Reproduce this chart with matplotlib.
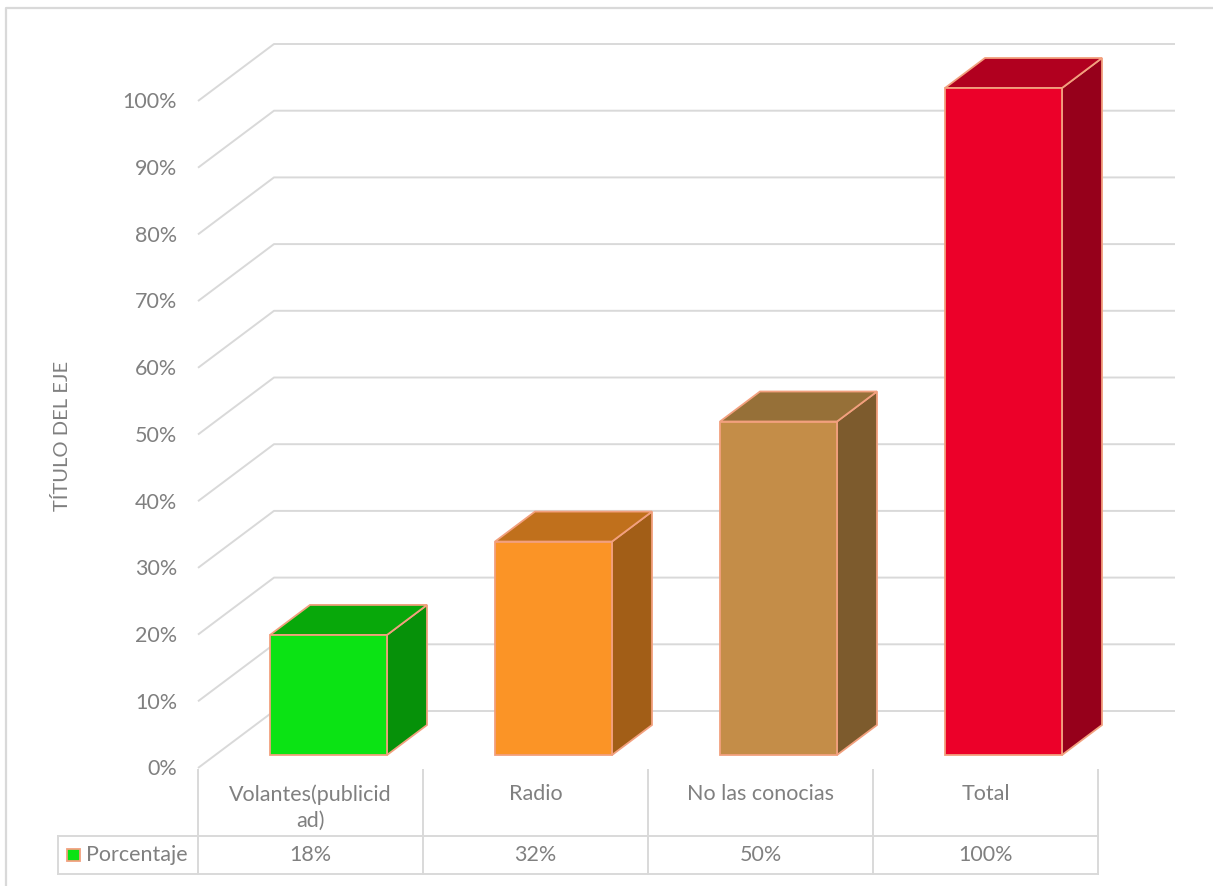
import matplotlib
matplotlib.use('Agg')
import matplotlib.pyplot as plt
from matplotlib.patches import Polygon, Rectangle

plt.rcParams['font.family'] = ['Lato', 'DejaVu Sans']

# datos del grafico
categorias = ['Volantes(publicid\nad)', 'Radio', 'No las conocias', 'Total']
porcentaje = [0.18, 0.32, 0.50, 1.00]
etiquetas = ['18%', '32%', '50%', '100%']
serie = 'Porcentaje'
ticks = [i / 10 for i in range(11)]

c_frente = ['#0BE314', '#FB9426', '#C48D48', '#EC0029']
c_arriba = ['#08A80A', '#C0701C', '#967038', '#B1001F']
c_lado = ['#069109', '#A25E17', '#7D5B2D', '#96001B']
c_borde = '#F2A07E'
c_grid = '#D9D9D9'
c_texto = '#808080'
fs = 15.5

W, H = 1213, 886


# pixeles -> coordenadas (categoria, valor)
def px(x):
    return (x - 198) / 225.0 - 0.5


def py(y):
    return (755 - y) / 667.0


fig = plt.figure(figsize=(W / 100, H / 100), dpi=100)
ax = fig.add_axes([0, 0, 1, 1])
ax.set_xlim(px(0), px(W))
ax.set_ylim(py(H), py(0))
ax.axis('off')

# profundidad de las paredes y de las barras
wdx, wdy = px(274) - px(198), py(711) - py(768)
fy = py(768)
bdx, bdy = 40 / 225.0, 30 / 667.0

# lineas de la cuadricula (pared izquierda + fondo)
for t in ticks:
    ax.plot([-0.5, -0.5 + wdx, px(1175)], [t + fy, t + fy + wdy, t + fy + wdy],
            color=c_grid, lw=1.4, zorder=1, solid_capstyle='butt')
    ax.text(px(177), t + fy - 0.002, '{:.0f}%'.format(t * 100), ha='right', va='center',
            fontsize=fs, color=c_texto)

# barras 3D
for i, v in enumerate(porcentaje):
    x0, x1 = i - 0.18, i + 0.34
    ax.add_patch(Polygon([(x1, 0), (x1 + bdx, bdy), (x1 + bdx, v + bdy), (x1, v)],
                         closed=True, fc=c_lado[i], ec=c_borde, lw=1.3, zorder=3))
    ax.add_patch(Polygon([(x0, v), (x1, v), (x1 + bdx, v + bdy), (x0 + bdx, v + bdy)],
                         closed=True, fc=c_arriba[i], ec=c_borde, lw=1.3, zorder=3))
    ax.add_patch(Rectangle((x0, 0), x1 - x0, v, fc=c_frente[i], ec=c_borde, lw=1.3, zorder=4))

# tabla de datos
for i in range(len(categorias) + 1):
    ax.plot([i - 0.5, i - 0.5], [py(770), py(874)], color=c_grid, lw=1.4, zorder=1)
for y in (836, 874):
    ax.plot([px(58), 3.5], [py(y), py(y)], color=c_grid, lw=1.4, zorder=1)
ax.plot([px(58), px(58)], [py(836), py(874)], color=c_grid, lw=1.4, zorder=1)

for i, (c, e) in enumerate(zip(categorias, etiquetas)):
    ax.text(i, py(784), c, ha='center', va='top', fontsize=fs, color=c_texto, linespacing=1.4)
    ax.text(i, py(855), e, ha='center', va='center', fontsize=fs, color=c_texto)

ax.add_patch(Rectangle((px(67), py(861)), px(80) - px(67), py(849) - py(861),
                       fc=c_frente[0], ec=c_borde, lw=1.3))
ax.text(px(86), py(855), serie, ha='left', va='center', fontsize=fs, color=c_texto)

# titulo del eje
ax.text(px(62), py(436), 'TÍTULO DEL EJE', rotation=90, ha='center', va='center',
        fontsize=14.5, color=c_texto)

# borde del area del grafico
ax.plot([px(6), px(6), px(W + 5)], [py(H + 5), py(8), py(8)], color=c_grid, lw=1.6)

fig.savefig('out.png', dpi=100)
